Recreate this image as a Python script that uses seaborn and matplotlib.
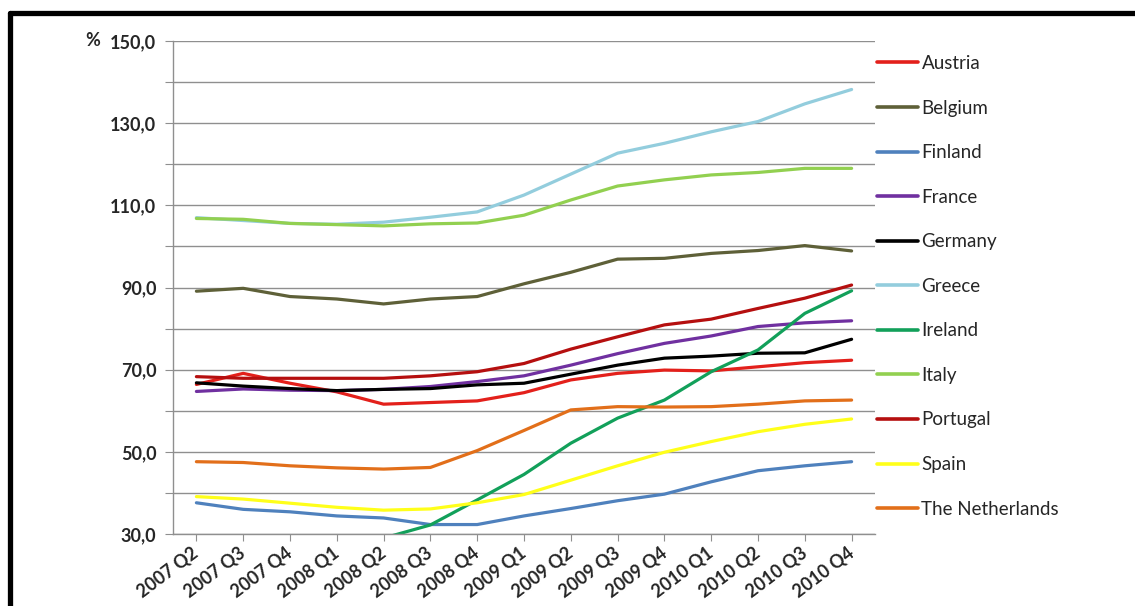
import numpy as np
import pandas as pd
import seaborn as sns
import matplotlib.pyplot as plt
from matplotlib.lines import Line2D

quarters = [
    "2007 Q2", "2007 Q3", "2007 Q4", "2008 Q1", "2008 Q2", "2008 Q3", "2008 Q4",
    "2009 Q1", "2009 Q2", "2009 Q3", "2009 Q4", "2010 Q1", "2010 Q2", "2010 Q3", "2010 Q4",
]

austria = [66.4, 69.1, 66.7, 64.6, 61.6, 62.0, 62.4, 64.4, 67.5, 69.1, 69.9, 69.7, 70.7, 71.7, 72.3]
belgium = [89.1, 89.8, 87.8, 87.2, 86.0, 87.2, 87.8, 90.9, 93.7, 96.9, 97.1, 98.3, 99.0, 100.2, 98.9]
finland = [37.6, 36.0, 35.4, 34.4, 33.9, 32.3, 32.3, 34.4, 36.2, 38.1, 39.7, 42.7, 45.4, 46.6, 47.6]
france = [64.7, 65.3, 65.0, 64.9, 65.2, 65.9, 67.1, 68.5, 71.1, 73.9, 76.4, 78.2, 80.5, 81.4, 81.9]
germany = [66.8, 66.0, 65.4, 64.9, 65.2, 65.4, 66.3, 66.7, 68.9, 71.1, 72.8, 73.3, 74.0, 74.1, 77.4]
greece = [107.0, 106.3, 105.6, 105.4, 105.9, 107.1, 108.4, 112.5, 117.6, 122.7, 125.1, 127.9, 130.4, 134.7, 138.2]
# early Ireland values lie below the 30 % axis floor and are not readable
ireland = [np.nan, np.nan, np.nan, np.nan, 29.0, 32.2, 38.3, 44.5, 52.1, 58.2, 62.6, 69.5, 74.8, 83.7, 89.2]
italy = [106.8, 106.6, 105.6, 105.3, 105.0, 105.5, 105.7, 107.6, 111.3, 114.7, 116.2, 117.4, 118.0, 119.0, 119.0]
portugal = [68.3, 67.9, 67.9, 67.9, 67.9, 68.5, 69.5, 71.5, 75.0, 78.0, 80.9, 82.3, 84.9, 87.4, 90.6]
spain = [39.1, 38.5, 37.5, 36.5, 35.8, 36.1, 37.6, 39.6, 43.1, 46.6, 49.9, 52.5, 54.9, 56.7, 58.0]
netherlands = [47.6, 47.4, 46.6, 46.1, 45.8, 46.2, 50.3, 55.2, 60.2, 61.0, 60.9, 61.0, 61.6, 62.4, 62.6]

countries = [
    "Austria", "Belgium", "Finland", "France", "Germany", "Greece",
    "Ireland", "Italy", "Portugal", "Spain", "The Netherlands",
]
series = [austria, belgium, finland, france, germany, greece,
          ireland, italy, portugal, spain, netherlands]
colors = ["#E3201B", "#5E6038", "#4F81BD", "#7030A0", "#000000", "#93CDDD",
          "#12A05A", "#92D050", "#B50F0F", "#FFFF1A", "#E26F1A"]

y_ticks = list(range(30, 151, 10))
y_labels = [f"{v},0" if v % 20 == 10 else "" for v in y_ticks]

df = pd.concat(
    [pd.DataFrame({"quarter": quarters, "value": vals, "country": name})
     for name, vals in zip(countries, series)],
    ignore_index=True,
)

sns.set_style("white")
plt.rcParams["font.family"] = ["Lato", "DejaVu Sans"]

fig = plt.figure(figsize=(11.35, 6.06), dpi=100)
ax = fig.add_axes([173 / 1135, 1 - 534 / 606, (875 - 173) / 1135, (534 - 41) / 606])

sns.lineplot(
    data=df, x="quarter", y="value", hue="country", hue_order=countries,
    palette=dict(zip(countries, colors)), linewidth=2.3, sort=False,
    estimator=None, ax=ax,
)

ax.set_xlim(-0.5, len(quarters) - 0.5)
ax.set_ylim(30, 150)
ax.set_yticks(y_ticks)
ax.set_yticklabels(y_labels, fontweight="bold")
ax.set_xticks(range(len(quarters)))
ax.set_xticklabels(quarters, rotation=37, ha="right", va="center",
                   rotation_mode="anchor", fontweight="bold")
ax.grid(axis="y", color="#8f8f8f", linewidth=1.0)
ax.set_axisbelow(True)
for s in ["top", "right"]:
    ax.spines[s].set_visible(False)
for s in ["left", "bottom"]:
    ax.spines[s].set_color("#8f8f8f")
    ax.spines[s].set_linewidth(1.0)

ax.tick_params(axis="y", direction="out", length=5.5, color="#8f8f8f", left=True,
               labelsize=13, pad=6.5)
ax.tick_params(axis="x", direction="out", length=5, color="#8f8f8f", bottom=True,
               labelsize=13, pad=7)
ax.set_xlabel("")
ax.set_ylabel("")

fig.text(100 / 1135, 1 - 41 / 606, "%", ha="right", va="center",
         fontsize=13, fontweight="bold")

handles = [Line2D([0], [0], color=c, linewidth=2.6) for c in colors]
ax.legend(handles, countries, loc="upper left",
          bbox_to_anchor=(877 / 1135, 1 - 55 / 606), bbox_transform=fig.transFigure,
          frameon=False, fontsize=13.5, handlelength=2.2, handletextpad=0.17,
          labelspacing=1.47, borderpad=0, borderaxespad=0)

# black frame around the picture
fig.add_artist(Line2D([9.5 / 1135, 9.5 / 1135], [-0.05, 1 - 12.5 / 606],
                      color="black", linewidth=3.8, transform=fig.transFigure))
fig.add_artist(Line2D([9.5 / 1135, 1.05], [1 - 12.5 / 606, 1 - 12.5 / 606],
                      color="black", linewidth=3.8, transform=fig.transFigure))

fig.savefig("out.png", dpi=100)
